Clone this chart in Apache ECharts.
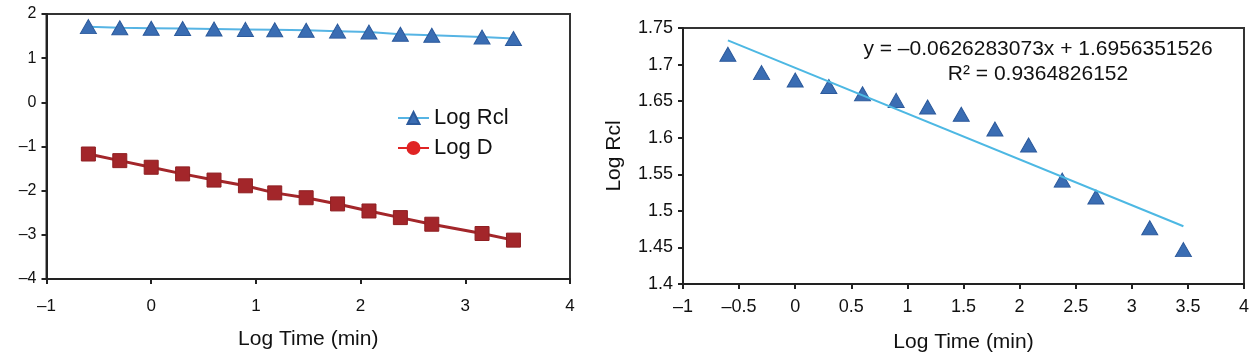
<!DOCTYPE html>
<html>
<head>
<meta charset="utf-8">
<script src="https://cdn.jsdelivr.net/npm/echarts@6/dist/echarts.min.js"></script>
<style>
  html, body { margin: 0; padding: 0; background: #fff; }
  #main { width: 1252px; height: 358px; }
</style>
</head>
<body>
<div id="main"></div>
<script>
// log time (min) for 0.25 ... 2880 min
var logTime = [-0.60, -0.30, 0, 0.30, 0.60, 0.90, 1.18, 1.48, 1.78, 2.08, 2.38, 2.68, 3.16, 3.46];
var logRcl = [1.714, 1.689, 1.679, 1.670, 1.660, 1.651, 1.642, 1.632, 1.612, 1.590, 1.542, 1.519, 1.477, 1.447];
var logD = [-1.17, -1.32, -1.47, -1.62, -1.76, -1.89, -2.05, -2.16, -2.30, -2.46, -2.61, -2.76, -2.97, -3.12];
// trend line end points
var trendX = [-0.60, 3.46];
var trendY = [1.733, 1.479];
var eqText = 'y = \u20130.0626283073x + 1.6956351526';
var r2Text = 'R\u00b2 = 0.9364826152';

var font = 'Liberation Sans, Arial, sans-serif';

function pairs(xs, ys, sym) {
    var d = [];
    for (var i = 0; i < xs.length; i++) {
        if (sym) {
            d.push({ value: [xs[i], ys[i]], symbol: sym });
        } else {
            d.push([xs[i], ys[i]]);
        }
    }
    return d;
}

function minus(v) {
    return String(v).replace('-', '\u2013');
}

var axisLine = { show: true, onZero: false, lineStyle: { color: '#222', width: 2 } };
var axisTick = { show: true, length: 5, lineStyle: { color: '#222', width: 2 } };

var myChart = echarts.init(document.getElementById('main'));
myChart.setOption({
    animation: false,
    textStyle: { fontFamily: font },
    grid: [
        { left: 46.5, right: 682, top: 14, bottom: 79, show: true, borderColor: '#333', borderWidth: 2 },
        { left: 683, right: 8, top: 28, bottom: 72, show: true, borderColor: '#333', borderWidth: 2 }
    ],
    legend: {
        left: 392,
        top: 102,
        orient: 'vertical',
        itemWidth: 31,
        itemHeight: 15,
        itemGap: 8,
        textStyle: { fontFamily: font, fontSize: 22, color: '#111' },
        data: [
            { name: 'Log Rcl' },
            {
                name: 'Log D',
                itemStyle: { color: '#e02424', borderColor: '#e02424' },
                lineStyle: { color: '#e02424' }
            }
        ]
    },
    xAxis: [
        {
            gridIndex: 0, type: 'value', min: -1, max: 4, interval: 1,
            name: 'Log Time (min)', nameLocation: 'middle', nameGap: 50,
            nameTextStyle: { fontFamily: font, fontSize: 21, color: '#111' },
            axisLine: axisLine, axisTick: axisTick, splitLine: { show: false },
            axisLabel: { fontSize: 17, color: '#111', margin: 19, formatter: minus }
        },
        {
            gridIndex: 1, type: 'value', min: -1, max: 4, interval: 0.5,
            name: 'Log Time (min)', nameLocation: 'middle', nameGap: 48,
            nameTextStyle: { fontFamily: font, fontSize: 21, color: '#111' },
            axisLine: axisLine, axisTick: axisTick, splitLine: { show: false },
            axisLabel: { fontSize: 18, color: '#111', margin: 14, formatter: minus }
        }
    ],
    yAxis: [
        {
            gridIndex: 0, type: 'value', min: -4, max: 2, interval: 1,
            axisLine: axisLine, axisTick: axisTick, splitLine: { show: false },
            axisLabel: { fontSize: 16, color: '#111', margin: 10, formatter: minus }
        },
        {
            gridIndex: 1, type: 'value', min: 1.4, max: 1.75, interval: 0.05,
            name: 'Log Rcl', nameLocation: 'middle', nameGap: 58, nameRotate: 90,
            nameTextStyle: { fontFamily: font, fontSize: 21, color: '#111' },
            axisLine: axisLine, axisTick: axisTick, splitLine: { show: false },
            axisLabel: { fontSize: 18, color: '#111', margin: 10 }
        }
    ],
    series: [
        {
            name: 'Log Rcl', type: 'line', xAxisIndex: 0, yAxisIndex: 0,
            data: pairs(logTime, logRcl),
            symbol: 'triangle', symbolSize: [16, 14],
            itemStyle: { color: '#3a6db3', borderColor: '#2c5a9c', borderWidth: 1 },
            lineStyle: { color: '#56b4e4', width: 2 }
        },
        {
            // series symbol is the circle shown in the legend, the points are squares
            name: 'Log D', type: 'line', xAxisIndex: 0, yAxisIndex: 0,
            data: pairs(logTime, logD, 'rect'),
            symbol: 'circle', symbolSize: 14,
            itemStyle: { color: '#a3262a', borderColor: '#8f1f22', borderWidth: 1 },
            lineStyle: { color: '#a3262a', width: 3 }
        },
        {
            name: 'Trend', type: 'line', xAxisIndex: 1, yAxisIndex: 1,
            data: pairs(trendX, trendY),
            symbol: 'none',
            lineStyle: { color: '#4db8e3', width: 2 }
        },
        {
            name: 'Log Rcl data', type: 'scatter', xAxisIndex: 1, yAxisIndex: 1,
            data: pairs(logTime, logRcl),
            symbol: 'triangle', symbolSize: [16, 14],
            itemStyle: { color: '#3a6db3', borderColor: '#2c5a9c', borderWidth: 1, opacity: 1 }
        }
    ],
    graphic: [
        {
            type: 'text', x: 1038, y: 39,
            style: { text: eqText, font: '21px ' + font, fill: '#111', textAlign: 'center' }
        },
        {
            type: 'text', x: 1038, y: 64,
            style: { text: r2Text, font: '21px ' + font, fill: '#111', textAlign: 'center' }
        }
    ]
});
</script>
</body>
</html>
